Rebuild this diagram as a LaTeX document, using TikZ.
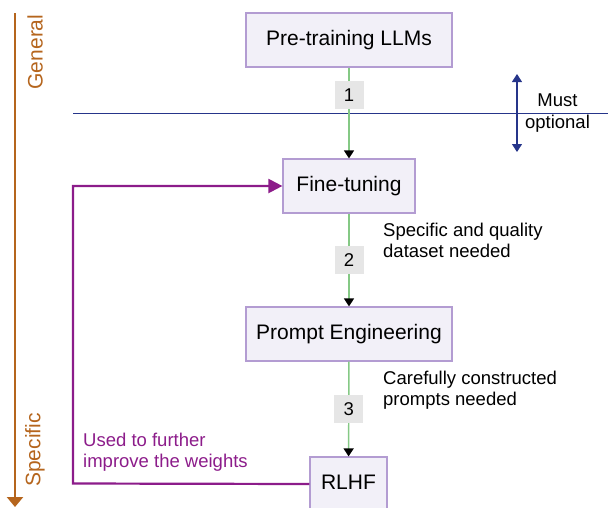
\documentclass[tikz,border=0pt]{standalone}
\usepackage{fontspec}
\setmainfont{Liberation Sans}
\usetikzlibrary{arrows.meta}
\definecolor{boxfill}{HTML}{F2F0F8}
\definecolor{boxline}{HTML}{B39CD2}
\definecolor{flowgreen}{HTML}{85C985}
\definecolor{tagfill}{HTML}{E6E6E6}
\definecolor{rulenavy}{HTML}{26358A}
\definecolor{loopviolet}{HTML}{8C1C8A}
\definecolor{scaleorange}{HTML}{B5651D}
\tikzset{
  stage/.style={draw=boxline, fill=boxfill, line width=1.2pt, inner sep=0pt,
    minimum height=54pt, text height=15pt, text depth=4pt,
    font=\fontsize{21}{24}\selectfont},
  flow/.style={draw=flowgreen, line width=1.4pt,
    -{Triangle[width=10pt,length=8pt,color=black]}},
  tag/.style={fill=tagfill, inner sep=0pt, minimum width=29pt, minimum height=28pt,
    font=\fontsize{18.5}{20}\selectfont},
  note/.style={inner sep=0pt, align=left, font=\fontsize{18.5}{20.5}\selectfont},
  axislabel/.style={rotate=90, text=scaleorange, inner sep=0pt,
    font=\fontsize{21}{24}\selectfont},
}
\begin{document}
\begin{tikzpicture}[x=1pt,y=-1pt]
\path[use as bounding box] (0,0) rectangle (608,507);
\clip (0,0) rectangle (608,507);

% general-to-specific scale
\coordinate (scaletop) at (15,13);
\coordinate (scalebot) at (15,507);
\draw[scaleorange, line width=2.2pt, -{Triangle[width=16pt,length=10pt]}] (scaletop) -- (scalebot);
\node[axislabel] (general) at (35,52) {General};
\node[axislabel] (specific) at (35,450) {Specific};

% must / optional divider
\coordinate (ruleL) at (73,113.5);
\coordinate (ruleR) at (608,113.5);
\draw[rulenavy, line width=1.1pt] (ruleL) -- (ruleR);
\coordinate (mtop) at (517,74);
\coordinate (mbot) at (517,152);
\draw[rulenavy, line width=1.1pt, {Triangle[width=10pt,length=8pt]}-{Triangle[width=10pt,length=8pt]}] (mtop) -- (mbot);
\node[inner sep=0pt, align=center, anchor=north, font=\fontsize{18.5}{22}\selectfont] (mustopt) at (557.5,94) {Must\\optional};

% stages
\node[stage, minimum width=206pt] (pre) at (349,40) {Pre-training LLMs};
\node[stage, minimum width=132pt] (ft) at (349,186) {Fine-tuning};
\node[stage, minimum width=206pt] (pe) at (349,334) {Prompt Engineering};
\node[stage, minimum width=77pt] (rlhf) at (348.5,484) {RLHF};

% flow between stages
\draw[flow] (pre) -- node[tag, pos=0.3] (t1) {1} (ft);
\draw[flow] (ft) -- node[tag, pos=0.5] (t2) {2} (pe);
\draw[flow] (pe) -- node[tag, pos=0.5] (t3) {3} (rlhf);

% annotations
\node[note, anchor=north west] (n2) at (383,223) {Specific and quality\\dataset needed};
\node[note, anchor=north west] (n3) at (383,371) {Carefully constructed\\prompts needed};

% feedback loop
\coordinate (loopcorner) at (73,483.5);
\draw[loopviolet, line width=2.2pt, -{Triangle[width=14pt,length=14pt]}]
  (rlhf.west) -- (loopcorner) |- (ft.west);
\node[note, anchor=north west, text=loopviolet] (nloop) at (83,433) {Used to further\\improve the weights};
\end{tikzpicture}
\end{document}
